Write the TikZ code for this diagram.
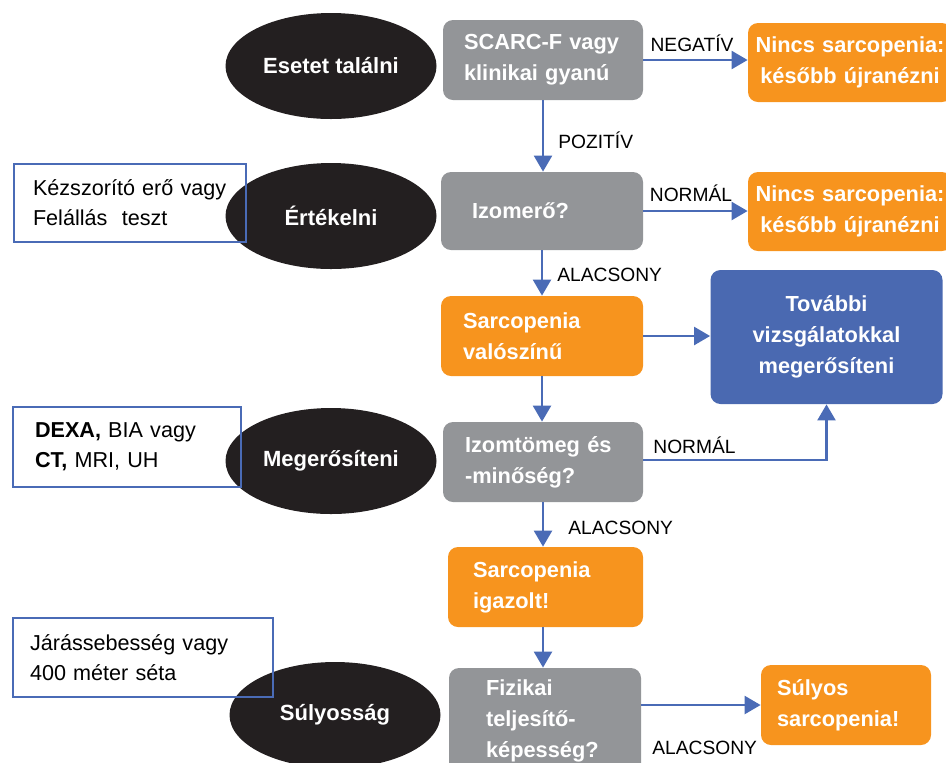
\documentclass[tikz,border=0pt]{standalone}
\usepackage{fontspec}
\setmainfont{Liberation Sans}
\usetikzlibrary{shapes.geometric,arrows.meta}
\definecolor{boxgray}{HTML}{939598}
\definecolor{boxorange}{HTML}{F7941E}
\definecolor{boxblue}{HTML}{4A69B1}
\definecolor{arrowblue}{HTML}{4A6BB6}
\definecolor{ovalblack}{HTML}{231F20}
\begin{document}
\begin{tikzpicture}[x=0.5pt,y=-0.5pt,
  oval/.style={ellipse, fill=ovalblack, text=white, minimum width=105.5pt, minimum height=53pt, inner sep=0pt,
    font=\fontsize{11}{13}\selectfont\bfseries},
  flowbox/.style={rounded corners=5pt, text=white, align=left, inner ysep=0pt,
    font=\fontsize{10.9}{15.5}\selectfont\bfseries},
  graybox/.style={flowbox, fill=boxgray},
  orangebox/.style={flowbox, fill=boxorange},
  notebox/.style={draw=arrowblue, line width=0.8pt, align=left, inner ysep=0pt,
    font=\fontsize{10.8}{15}\selectfont},
  lbl/.style={font=\fontsize{9.6}{11}\selectfont, inner sep=0pt},
  arr/.style={draw=arrowblue, line width=1.2pt, -{Triangle[width=9pt,length=8pt]}}]
  \useasboundingbox (0,0) rectangle (946,762);
  %ovals
  \node[oval] (find) at (331,66) {Esetet találni};
  \node[oval] (assess) at (331,216) {Értékelni};
  \node[oval] (confirm) at (331,461) {Megerősíteni};
  \node[oval] (severity) at (335,715) {Súlyosság};
  %tests
  \node[notebox, text width=97pt, inner xsep=9.5pt, minimum height=39pt] (grip) at (130,203)
    {Kézszorító erő vagy\\Felállás\ \ teszt};
  \node[notebox, text width=92pt, inner xsep=11pt, minimum height=40pt] (dexa) at (127,447)
    {\textbf{DEXA,} BIA vagy\\\textbf{CT,} MRI, UH};
  \node[notebox, text width=113pt, inner xsep=8.5pt, minimum height=39.5pt] (walk) at (143,657.5)
    {Járássebesség vagy\\400 méter séta};
  %flow boxes
  \node[graybox, text width=79pt, inner xsep=10.5pt, minimum height=40pt] (scarcf) at (543,60)
    {SCARC-F vagy\\klinikai gyanú};
  \node[graybox, text width=70pt, inner xsep=15.5pt, minimum height=39pt] (strength) at (542,211)
    {Izomerő?};
  \node[orangebox, text width=79pt, inner xsep=11pt, minimum height=40pt] (probable) at (542,336)
    {Sarcopenia\\valószínű};
  \node[graybox, text width=78pt, inner xsep=11pt, minimum height=40pt] (mass) at (543,462)
    {Izomtömeg és\\-minőség?};
  \node[orangebox, text width=72.5pt, inner xsep=12.5pt, minimum height=40pt] (confirmed) at (545.5,587)
    {Sarcopenia\\igazolt!};
  \node[graybox, text width=59pt, inner xsep=18.5pt, minimum height=53pt] (perform) at (545,721)
    {Fizikai\\teljesítő-\\képesség?};
  \node[orangebox, text width=69pt, inner xsep=8pt, minimum height=40pt] (severe) at (846,705)
    {Súlyos\\sarcopenia!};
  \node[orangebox, align=center, text width=98pt, inner xsep=2pt, minimum height=39.5pt] (none1) at (850,62.5)
    {Nincs sarcopenia:\\később újranézni};
  \node[orangebox, align=center, text width=98pt, inner xsep=2pt, minimum height=39.5pt] (none2) at (850,211.5)
    {Nincs sarcopenia:\\később újranézni};
  \node[flowbox, fill=boxblue, align=center, text width=110pt, inner xsep=3pt, minimum height=67pt] (further) at (826.5,337)
    {További\\vizsgálatokkal\\megerősíteni};
  %arrows
  \draw[arr] (scarcf.east) -- (scarcf.east -| none1.west);
  \draw[arr] (scarcf.south) -- (scarcf.south |- strength.north);
  \draw[arr] (strength.east) -- (strength.east -| none2.west);
  \draw[arr] (strength.south) -- (strength.south |- probable.north);
  \draw[arr] (probable.east) -- (probable.east -| further.west);
  \draw[arr] (probable.south) -- (probable.south |- mass.north);
  \draw[arr] ([yshift=1pt]mass.east) -| (further.south);
  \draw[arr] (mass.south) -- (mass.south |- confirmed.north);
  \draw[arr] (confirmed.south -| mass.south) -- (mass.south |- perform.north);
  \draw[arr] (severe.west -| perform.east) -- (severe.west);
  %labels
  \node[lbl] (neg) at (692,43) {NEGATÍV};
  \node[lbl, anchor=west] (pos) at (558,140) {POZITÍV};
  \node[lbl] (norm1) at (691,193) {NORMÁL};
  \node[lbl, anchor=west] (low1) at (557,275) {ALACSONY};
  \node[lbl, anchor=west] (norm2) at (653,445) {NORMÁL};
  \node[lbl, anchor=west] (low2) at (568,528) {ALACSONY};
  \node[lbl, anchor=west] (low3) at (652,748) {ALACSONY};
\end{tikzpicture}
\end{document}
